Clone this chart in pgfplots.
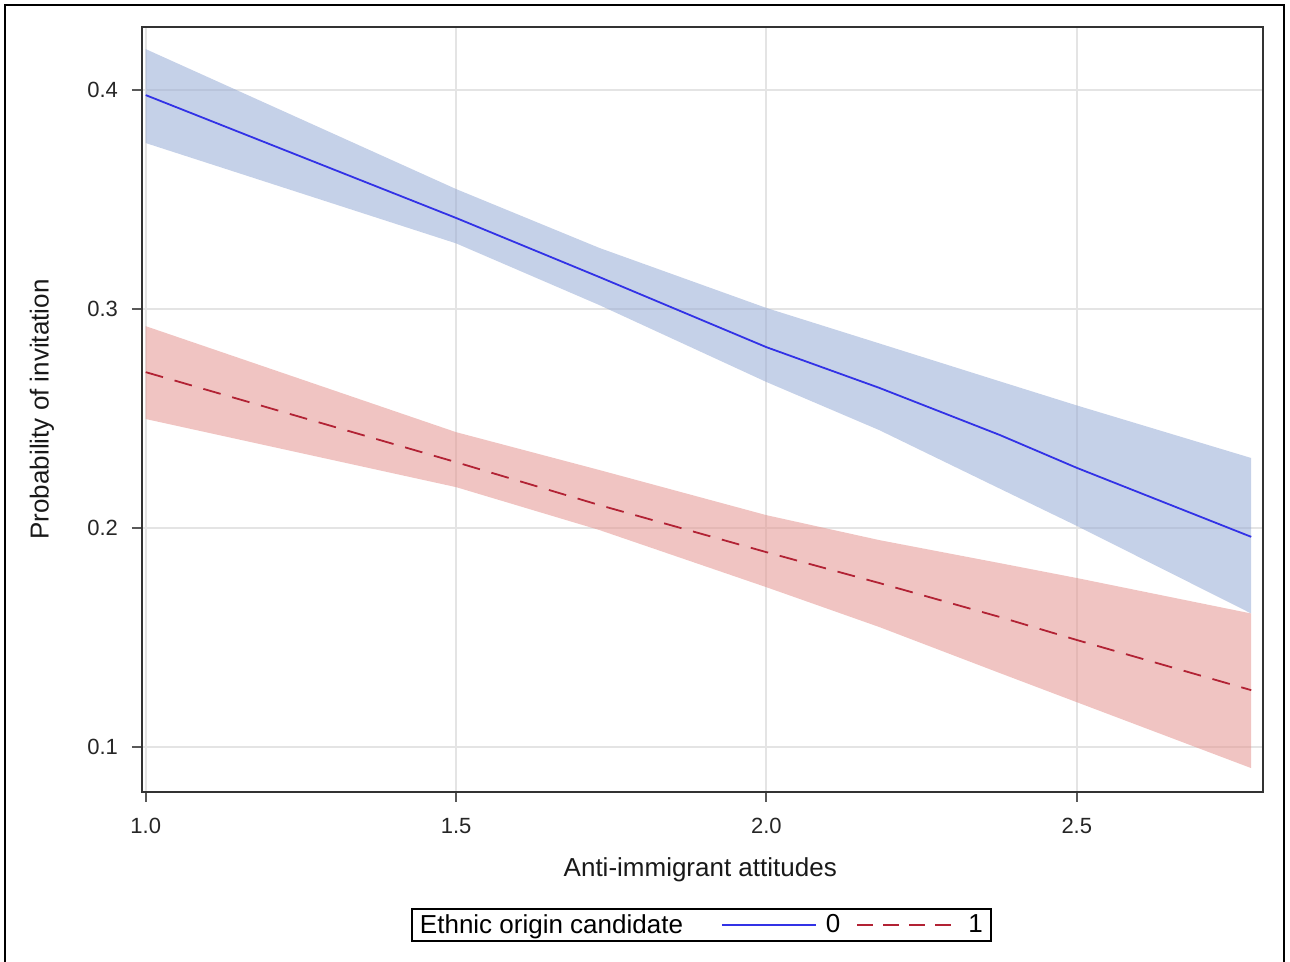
\documentclass[border=0pt]{standalone}
\usepackage{pgfplots}
\pgfplotsset{compat=1.18}
\usepackage{fontspec}
\setmainfont{Liberation Sans}

\definecolor{bandblue}{RGB}{150,171,213}
\definecolor{bandred}{RGB}{228,148,144}
\definecolor{lineblue}{RGB}{50,50,230}
\definecolor{linered}{RGB}{178,34,52}
\definecolor{gridgray}{RGB}{228,228,228}

\pgfplotsset{
  longline/.style={legend image code/.code={\draw[##1] (0pt,0pt) -- (47pt,0pt); \path[draw=none] (0pt,0pt) -- (50pt,0pt);}},
  longdash/.style={legend image code/.code={\draw[##1, dash pattern=on 8pt off 5pt] (0pt,0pt) -- (47pt,0pt); \path[draw=none] (0pt,0pt) -- (53.5pt,0pt);}},
}

\begin{document}
\begin{tikzpicture}
\useasboundingbox (0,0) rectangle (645pt,481pt);
% outer frame (bottom edge is cut off in the reference)
\draw[black, line width=1pt] (2.5pt,-2pt) -- (2.5pt,478.5pt) -- (642pt,478.5pt) -- (642pt,-2pt);
\begin{axis}[
  at={(71pt,85pt)}, anchor=south west,
  scale only axis, width=560.5pt, height=382.5pt,
  xmin=0.994, xmax=2.8, ymin=0.0795, ymax=0.4288,
  xtick={1,1.5,2,2.5}, ytick={0.1,0.2,0.3,0.4},
  tick pos=left, tick align=outside, major tick length=5pt,
  tick style={black!65, line width=1pt},
  axis line style={black!80, line width=0.9pt},
  grid=major, major grid style={gridgray, line width=1pt},
  /pgf/number format/assume math mode=true,
  xticklabel style={/pgf/number format/.cd, fixed, fixed zerofill, precision=1, /tikz/.cd, yshift=-4.5pt},
  yticklabel style={/pgf/number format/.cd, fixed, fixed zerofill, precision=1, /tikz/.cd, xshift=-3.5pt},
  ticklabel style={font=\fontsize{11}{13}\selectfont, text=black!85},
  xlabel={Anti-immigrant attitudes}, ylabel={Probability of invitation},
  label style={font=\fontsize{13}{15}\selectfont, text=black!90},
  xlabel style={at={(axis description cs:0.498,-0.102)}, anchor=center},
  ylabel style={at={(axis description cs:-0.0892,0.5)}, anchor=center},
  legend columns=-1,
  legend style={at={(axis description cs:0.499,-0.174)}, anchor=center,
    draw=black, line width=0.8pt, font=\fontsize{13}{15}\selectfont,
    inner xsep=2pt, inner ysep=0.5pt,
    /tikz/every even column/.append style={column sep=6pt}},
]
% confidence bands
\addplot[draw=none, fill=bandblue, fill opacity=0.55, forget plot] coordinates {
  (1.0,0.4187) (1.5,0.3548) (1.731,0.3279) (2.0,0.3005)
  (2.182,0.2843) (2.376,0.2670) (2.5,0.2560) (2.781,0.2320)
  (2.781,0.1610) (2.5,0.2010) (2.376,0.2180) (2.182,0.2447) (2.0,0.2667)
  (1.731,0.3018) (1.5,0.3300) (1.0,0.3758)
} -- cycle;
\addplot[draw=none, fill=bandred, fill opacity=0.55, forget plot] coordinates {
  (1.0,0.2922) (1.5,0.2438) (1.731,0.2265) (2.0,0.2059)
  (2.182,0.1945) (2.376,0.1840) (2.5,0.1772) (2.781,0.1610)
  (2.781,0.0904) (2.5,0.1205) (2.376,0.1338) (2.182,0.1548) (2.0,0.1730)
  (1.731,0.1991) (1.5,0.2187) (1.0,0.2498)
} -- cycle;
% legend title
\addlegendimage{empty legend}
\addlegendentry{Ethnic origin candidate\kern11pt}
% predicted probabilities
\addplot[lineblue, line width=0.9pt, longline] coordinates {
  (1.0,0.3977) (1.5,0.3416) (1.731,0.3146) (2.0,0.2826)
  (2.182,0.2640) (2.376,0.2425) (2.5,0.2275) (2.781,0.1960)
};
\addlegendentry{0}
\addplot[linered, line width=0.9pt, dash pattern=on 9pt off 6pt, longdash] coordinates {
  (1.0,0.2712) (1.5,0.2301) (1.731,0.2105) (2.0,0.1890)
  (2.182,0.1749) (2.376,0.1594) (2.5,0.1489) (2.781,0.1260)
};
\addlegendentry{1}
\end{axis}
\end{tikzpicture}
\end{document}
